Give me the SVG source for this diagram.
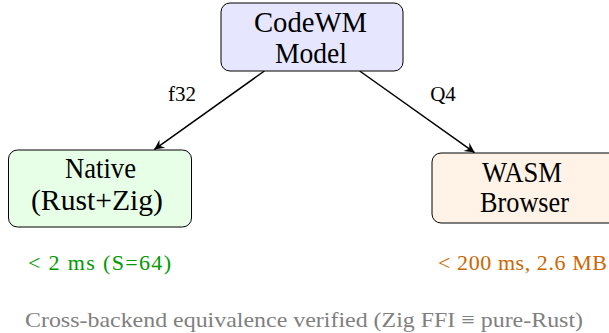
<svg xmlns="http://www.w3.org/2000/svg" width="609" height="333" viewBox="0 0 609 333">
<style>
.node rect{stroke:#000;stroke-width:1;}
.edge{stroke:#000;stroke-width:1.5;fill:none;}
</style>
<defs>
<marker id="arr" markerUnits="userSpaceOnUse" markerWidth="14" markerHeight="12" viewBox="-11 -6 12 12" refX="0" refY="0" orient="auto">
<path d="M0,0 L-10,-5 L-6.5,0 L-10,5 Z" fill="#000"/>
</marker>
</defs>
<rect width="609" height="333" fill="#fff"/>
<g font-family="Liberation Serif, serif">
<g id="connectors">
<line class="edge" x1="264.4" y1="71" x2="154.2" y2="149.6" marker-end="url(#arr)"/>
<line class="edge" x1="359.7" y1="71" x2="474.6" y2="152.6" marker-end="url(#arr)"/>
<text x="182" y="101" font-size="21" text-anchor="middle">f32</text>
<text x="443" y="101" font-size="21" text-anchor="middle">Q4</text>
</g>
<g id="model" class="node" font-size="29" text-anchor="middle">
<rect x="221" y="3" width="182" height="68" rx="9" fill="#e6e6ff"/>
<text x="310.5" y="32" textLength="113" lengthAdjust="spacingAndGlyphs">CodeWM</text>
<text x="311" y="63" textLength="72" lengthAdjust="spacingAndGlyphs">Model</text>
</g>
<g id="native" class="node" font-size="29" text-anchor="middle">
<rect x="8.5" y="150" width="183" height="77" rx="9" fill="#e6ffe6"/>
<text x="100.5" y="178" textLength="71" lengthAdjust="spacingAndGlyphs">Native</text>
<text x="97" y="210" textLength="132" lengthAdjust="spacingAndGlyphs">(Rust+Zig)</text>
</g>
<g id="wasm" class="node" font-size="29" text-anchor="middle">
<rect x="432" y="153" width="186" height="70" rx="9" fill="#fff2e6"/>
<text x="522" y="182" textLength="80" lengthAdjust="spacingAndGlyphs">WASM</text>
<text x="524.5" y="212" textLength="89" lengthAdjust="spacingAndGlyphs">Browser</text>
</g>
<g id="notes" font-size="22">
<text x="28" y="270" fill="#009900" textLength="143">&lt;  2 ms  (S=64)</text>
<text x="438" y="270" fill="#cc6600" textLength="169">&lt;  200 ms,  2.6 MB</text>
<text x="25" y="327" fill="#808080" textLength="558" lengthAdjust="spacingAndGlyphs">Cross-backend equivalence verified (Zig FFI ≡ pure-Rust)</text>
</g>
</g>
</svg>
